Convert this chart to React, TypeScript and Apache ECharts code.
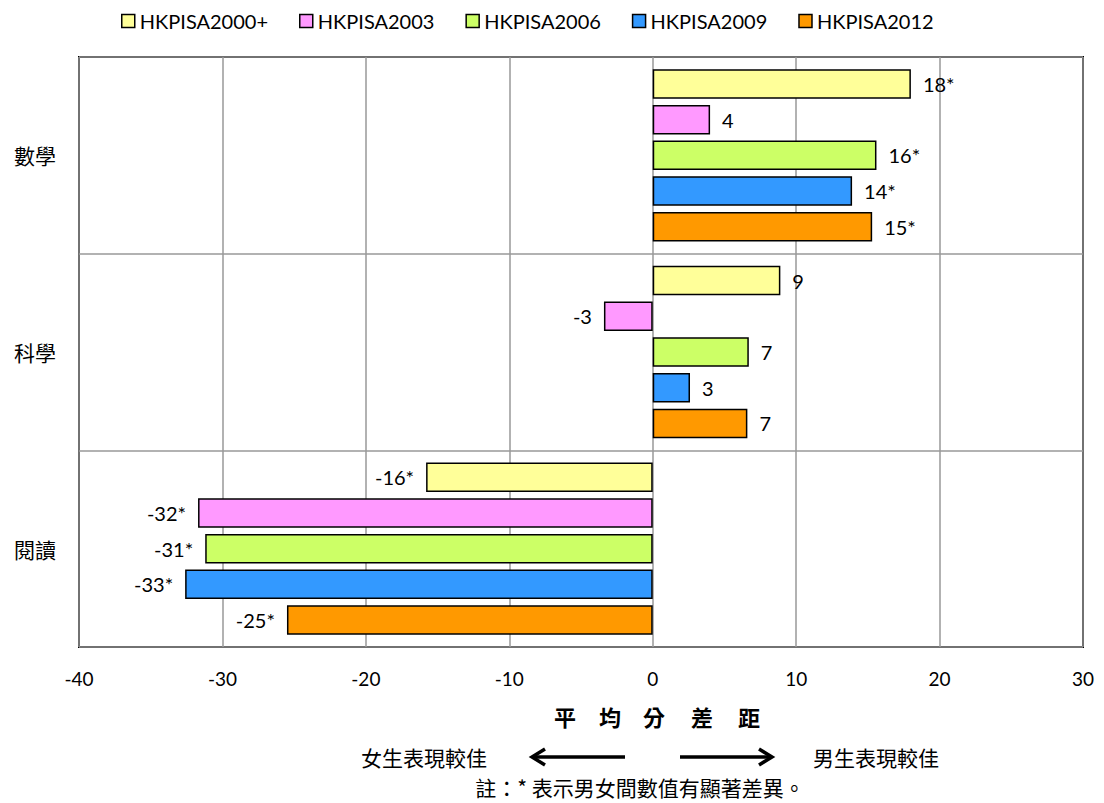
import React, { useEffect, useRef } from "react";
import * as echarts from "echarts";

const categories = ["數學", "科學", "閱讀"];
const seriesNames = ["HKPISA2000+", "HKPISA2003", "HKPISA2006", "HKPISA2009", "HKPISA2012"];
const v2000 = [18.0, 8.9, -15.8];
const v2003 = [4.0, -3.4, -31.7];
const v2006 = [15.6, 6.7, -31.2];
const v2009 = [13.9, 2.6, -32.6];
const v2012 = [15.3, 6.6, -25.5];
const l2000 = ["18*", "9", "-16*"];
const l2003 = ["4", "-3", "-32*"];
const l2006 = ["16*", "7", "-31*"];
const l2009 = ["14*", "3", "-33*"];
const l2012 = ["15*", "7", "-25*"];
const colors = ["#FFFF99", "#FF99FF", "#CCFF66", "#3399FF", "#FF9900"];
const xTicks = { min: -40, max: 30, interval: 10 };
const titleChars = ["平", "均", "分", "差", "距"];

const allValues = [v2000, v2003, v2006, v2009, v2012];
const allLabels = [l2000, l2003, l2006, l2009, l2012];

export default function App() {
  const ref = useRef<HTMLDivElement>(null);
  useEffect(() => {
    const chart = echarts.init(ref.current!, null, { renderer: "svg" });
    const font = "Lato, 'Liberation Sans', sans-serif";
    const cjk = "'Noto Sans CJK TC', sans-serif";
    const series = seriesNames.map((name, si) => ({
      name,
      type: "bar",
      barWidth: 29.5,
      barGap: "21%",
      itemStyle: { color: colors[si], borderColor: "#000", borderWidth: 1.5 },
      data: allValues[si].map((v, ci) => ({
        value: v,
        label: {
          show: true,
          position: v >= 0 ? "right" : "left",
          distance: 12,
          formatter: allLabels[si][ci],
          fontFamily: font,
          fontSize: 20,
          color: "#000",
        },
      })),
    }));
    const midY = 757;
    const titleX = [565, 610, 654, 702, 749];
    chart.setOption({
      animation: false,
      legend: {
        top: 6,
        left: 116,
        itemWidth: 13,
        itemHeight: 13,
        itemGap: 31,
        icon: "rect",
        textStyle: { fontFamily: font, fontSize: 20, color: "#000" },
        data: seriesNames.map((n) => ({ name: n, itemStyle: { borderColor: "#000", borderWidth: 1.5 } })),
      },
      grid: {
        left: 79,
        right: 21,
        top: 57,
        bottom: 156,
        show: true,
        borderColor: "#000",
        borderWidth: 2,
        containLabel: false,
      },
      xAxis: {
        type: "value",
        min: xTicks.min,
        max: xTicks.max,
        interval: xTicks.interval,
        axisLine: { show: false },
        axisTick: { show: false },
        splitLine: { show: true, lineStyle: { color: "#999", width: 1.5 } },
        axisLabel: { fontFamily: font, fontSize: 19, color: "#000", margin: 22 },
      },
      yAxis: {
        type: "category",
        data: categories,
        inverse: true,
        axisLine: { show: false },
        axisTick: { show: false },
        splitLine: { show: true, lineStyle: { color: "#999", width: 1.5 } },
        axisLabel: { fontFamily: cjk, fontSize: 21, color: "#000", margin: 23 },
      },
      series,
      graphic: [
        ...titleChars.map((c, i) => ({
          type: "text",
          x: titleX[i],
          y: 716,
          style: {
            text: c,
            fontFamily: cjk,
            fontWeight: "bold",
            fontSize: 22,
            fill: "#000",
            align: "center",
            verticalAlign: "middle",
          },
        })),
        {
          type: "text",
          x: 424,
          y: midY,
          style: { text: "女生表現較佳", fontFamily: cjk, fontSize: 21, fill: "#000", align: "center", verticalAlign: "middle" },
        },
        {
          type: "text",
          x: 876,
          y: midY,
          style: { text: "男生表現較佳", fontFamily: cjk, fontSize: 21, fill: "#000", align: "center", verticalAlign: "middle" },
        },
        {
          type: "text",
          x: 640,
          y: 787,
          style: { text: "註：* 表示男女間數值有顯著差異。", fontFamily: cjk, fontSize: 21, fill: "#000", align: "center", verticalAlign: "middle" },
        },
        { type: "line", shape: { x1: 533, y1: midY, x2: 625, y2: midY }, style: { stroke: "#000", lineWidth: 3.5 } },
        { type: "polyline", shape: { points: [[545, midY - 8], [532, midY], [545, midY + 8]] }, style: { stroke: "#000", lineWidth: 3.5, fill: null } },
        { type: "line", shape: { x1: 680, y1: midY, x2: 771, y2: midY }, style: { stroke: "#000", lineWidth: 3.5 } },
        { type: "polyline", shape: { points: [[759, midY - 8], [772, midY], [759, midY + 8]] }, style: { stroke: "#000", lineWidth: 3.5, fill: null } },
      ],
    });
    return () => chart.dispose();
  }, []);
  return <div ref={ref} style={{ width: 1104, height: 803, position: "absolute", left: 0, top: 0 }} />;
}
